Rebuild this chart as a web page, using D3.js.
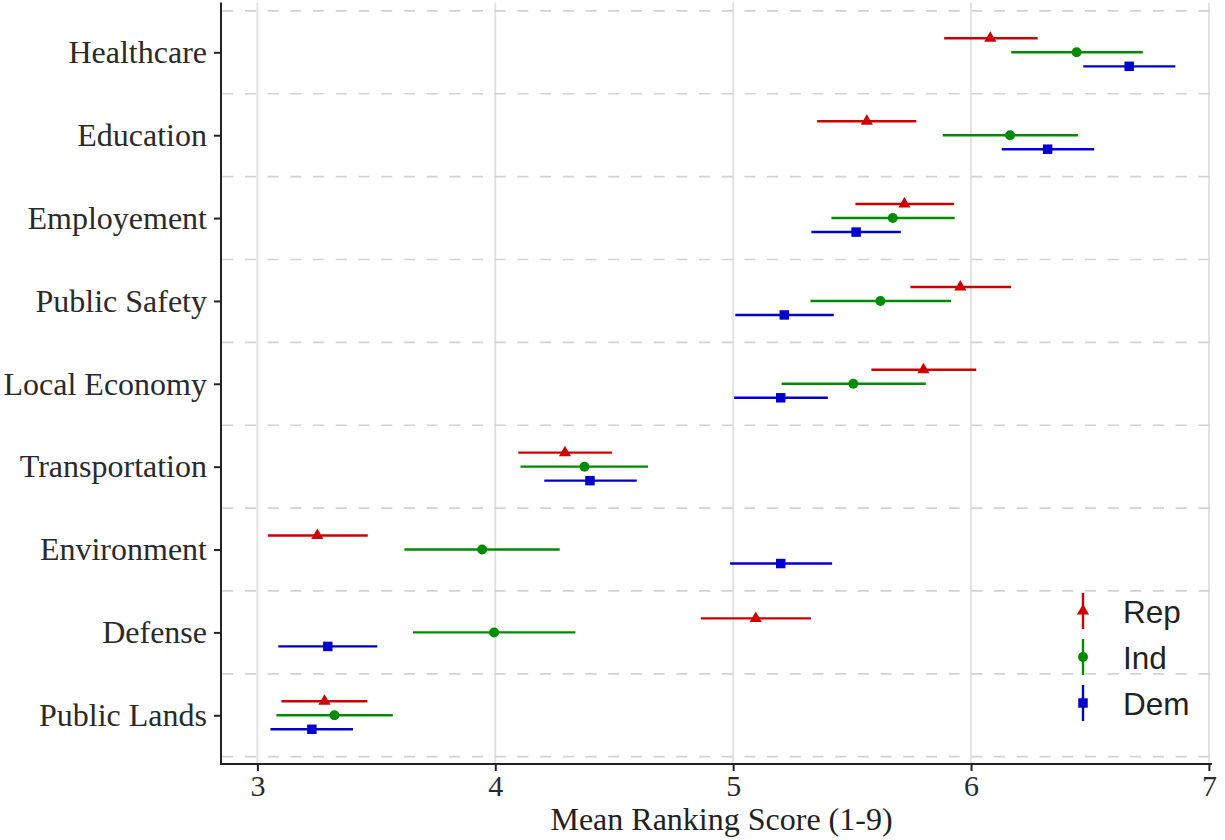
<!DOCTYPE html>
<html>
<head>
<meta charset="utf-8">
<script src="https://cdn.jsdelivr.net/npm/d3@7"></script>
<style>
  html, body { margin: 0; padding: 0; background: #fff; }
  svg { display: block; }
</style>
</head>
<body>
<svg id="chart" width="1225" height="840"></svg>
<script>
// ---- data ----
const categories = ["Healthcare","Education","Employement","Public Safety","Local Economy","Transportation","Environment","Defense","Public Lands"];
const parties = ["Rep","Ind","Dem"];
const xTicks = [3, 4, 5, 6, 7];

const repMean = [6.081, 5.562, 5.720, 5.955, 5.800, 4.293, 3.252, 5.095, 3.282];
const repLo   = [5.887, 5.353, 5.514, 5.745, 5.581, 4.097, 3.044, 4.864, 3.101];
const repHi   = [6.280, 5.770, 5.929, 6.168, 6.022, 4.491, 3.464, 5.327, 3.462];

const indMean = [6.444, 6.164, 5.671, 5.619, 5.505, 4.375, 3.945, 3.995, 3.324];
const indLo   = [6.169, 5.881, 5.413, 5.325, 5.204, 4.106, 3.618, 3.654, 3.080];
const indHi   = [6.722, 6.450, 5.931, 5.916, 5.810, 4.642, 4.271, 4.337, 3.569];

const demMean = [6.665, 6.322, 5.517, 5.215, 5.200, 4.398, 5.200, 3.296, 3.229];
const demLo   = [6.472, 6.129, 5.329, 5.009, 5.004, 4.206, 4.987, 3.088, 3.055];
const demHi   = [6.859, 6.518, 5.705, 5.423, 5.398, 4.595, 5.416, 3.504, 3.402];

const xTitle = "Mean Ranking Score (1-9)";

// ---- styling ----
const colors = { Rep: "#cd0000", Ind: "#008b00", Dem: "#0000cd" };
const symbols = { Rep: d3.symbolTriangle, Ind: d3.symbolCircle, Dem: d3.symbolSquare };
const symSize = { Rep: 64, Ind: 78, Dem: 90 };
const serif = "'Liberation Serif', 'Times New Roman', serif";

const panel = { left: 221, right: 1212, top: 2.6, bottom: 765 };

const seriesMap = {
  Rep: { mean: repMean, lo: repLo, hi: repHi },
  Ind: { mean: indMean, lo: indLo, hi: indHi },
  Dem: { mean: demMean, lo: demLo, hi: demHi }
};
const rows = [];
parties.forEach(p => categories.forEach((c, i) => rows.push({
  party: p, cat: c, mean: seriesMap[p].mean[i], lo: seriesMap[p].lo[i], hi: seriesMap[p].hi[i]
})));

const svg = d3.select("#chart");

const x = d3.scaleLinear().domain([2.847, 7.013]).range([panel.left, panel.right]);
const y = d3.scalePoint().domain(categories).range([panel.top, panel.bottom]).padding(0.6);
const step = y.step();
const dodge = d3.scalePoint().domain(parties).range([-0.169 * step, 0.169 * step]);

// vertical major grid
svg.append("g").selectAll("line").data(xTicks).join("line")
  .attr("x1", d => x(d)).attr("x2", d => x(d))
  .attr("y1", panel.top).attr("y2", panel.bottom)
  .attr("stroke", "#e0e0e0").attr("stroke-width", 1.8);

// horizontal dashed separators
const seps = categories.map(c => y(c) - step / 2).concat([y(categories[categories.length - 1]) + step / 2]);
svg.append("g").selectAll("line").data(seps).join("line")
  .attr("x1", panel.left + 1.3).attr("x2", panel.right)
  .attr("y1", d => d).attr("y2", d => d)
  .attr("stroke", "#d2d2d2").attr("stroke-width", 1.7)
  .attr("stroke-dasharray", "11,11.7");

// error bars
const g = svg.append("g");
g.selectAll("line.err").data(rows).join("line")
  .attr("class", "err")
  .attr("x1", d => x(d.lo)).attr("x2", d => x(d.hi))
  .attr("y1", d => y(d.cat) + dodge(d.party)).attr("y2", d => y(d.cat) + dodge(d.party))
  .attr("stroke", d => colors[d.party]).attr("stroke-width", 2.4);

// points
g.selectAll("path.pt").data(rows).join("path")
  .attr("class", "pt")
  .attr("transform", d => `translate(${x(d.mean)},${y(d.cat) + dodge(d.party)})`)
  .attr("d", d => d3.symbol(symbols[d.party], symSize[d.party])())
  .attr("fill", d => colors[d.party]);

// axes
const xAxis = svg.append("g").attr("transform", `translate(0,${panel.bottom - 1})`)
  .call(d3.axisBottom(x).tickValues(xTicks).tickFormat(d3.format("d")).tickSizeOuter(0).tickSize(7).tickPadding(4));
xAxis.select(".domain").attr("d", `M${panel.left},0H${panel.right}`).attr("stroke", "#222").attr("stroke-width", 2);
xAxis.selectAll(".tick line").attr("stroke", "#222").attr("stroke-width", 2);
xAxis.selectAll(".tick text")
  .attr("font-family", serif)
  .attr("font-size", 30).attr("fill", "#2a2a2a");

const yAxis = svg.append("g").attr("transform", `translate(${panel.left},0)`)
  .call(d3.axisLeft(y).tickSizeOuter(0).tickSize(7).tickPadding(7));
yAxis.select(".domain").attr("d", `M0,${panel.top}V${panel.bottom}`).attr("stroke", "#222").attr("stroke-width", 2);
yAxis.selectAll(".tick line").attr("stroke", "#222").attr("stroke-width", 2);
yAxis.selectAll(".tick text")
  .attr("font-family", serif)
  .attr("font-size", 32).attr("fill", "#2a2a2a");

// x title
svg.append("text")
  .attr("x", (panel.left + panel.right) / 2 + 5).attr("y", 830)
  .attr("text-anchor", "middle")
  .attr("font-family", serif)
  .attr("font-size", 32).attr("fill", "#222")
  .text(xTitle);

// legend
const leg = svg.append("g").attr("transform", "translate(1083,611)");
const li = leg.selectAll("g").data(parties).join("g")
  .attr("transform", (d, i) => `translate(0,${i * 46})`);
li.append("line").attr("x1", 0).attr("x2", 0).attr("y1", -18).attr("y2", 18)
  .attr("stroke", d => colors[d]).attr("stroke-width", 2.4);
li.append("path").attr("d", d => d3.symbol(symbols[d], symSize[d])()).attr("fill", d => colors[d]);
li.append("text").attr("x", 40).attr("y", 11.5)
  .attr("font-family", "'Liberation Sans', Arial, sans-serif")
  .attr("font-size", 31.5).attr("fill", "#222")
  .text(d => d);
</script>
</body>
</html>
